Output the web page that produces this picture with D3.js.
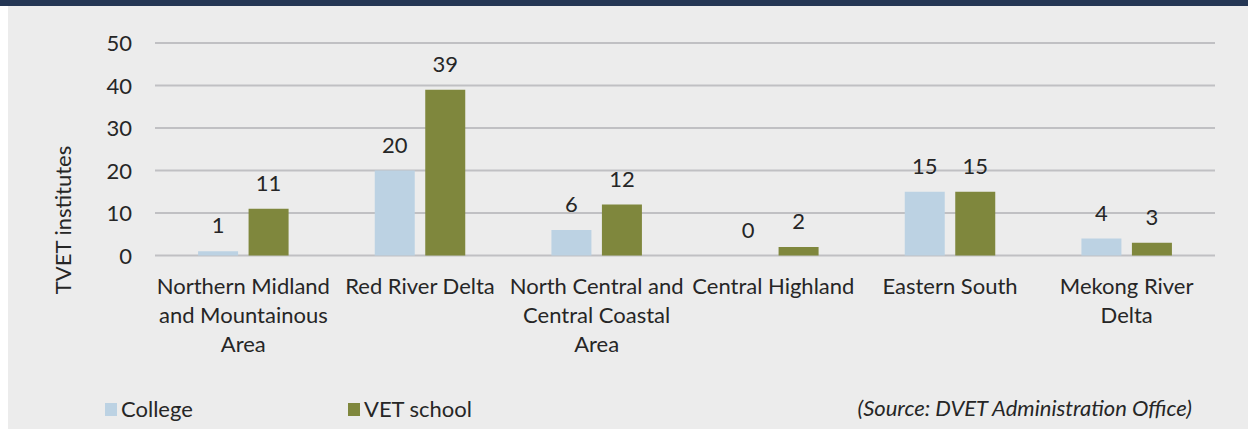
<!DOCTYPE html>
<html>
<head>
<meta charset="utf-8">
<script src="https://cdn.jsdelivr.net/npm/d3@7"></script>
<style>
  html, body { margin: 0; padding: 0; background: #ffffff; }
  svg { display: block; }
  text { font-family: Lato, "Open Sans", sans-serif; fill: #262626; }
</style>
</head>
<body>
<svg id="chart" width="1248" height="435"></svg>
<script>
// Regions and the number of TVET institutes of each type
const categories = [
  "Northern Midland and Mountainous Area",
  "Red River Delta",
  "North Central and Central Coastal Area",
  "Central Highland",
  "Eastern South",
  "Mekong River Delta"
];
// How each region name breaks onto lines under the axis
const categoryLines = [
  ["Northern Midland", "and Mountainous", "Area"],
  ["Red River Delta"],
  ["North Central and", "Central Coastal", "Area"],
  ["Central Highland"],
  ["Eastern South"],
  ["Mekong River", "Delta"]
];
const seriesNames = ["College", "VET school"];
const collegeValues = [1, 20, 6, 0, 15, 4];
const vetSchoolValues = [11, 39, 12, 2, 15, 3];
const yTicks = [0, 10, 20, 30, 40, 50];
const yTitle = "TVET institutes";
const sourceNote = "(Source: DVET Administration Office)";

const colors = { "College": "#bcd2e3", "VET school": "#7f873d" };
const series = [collegeValues, vetSchoolValues];
const fontSize = 22;

const svg = d3.select("#chart");

// panel background and header band
svg.append("rect").attr("x", 8).attr("y", 0).attr("width", 1240).attr("height", 429).attr("fill", "#ececec");
svg.append("rect").attr("x", 0).attr("y", 0).attr("width", 1248).attr("height", 6).attr("fill", "#243654");

const plot = { left: 155, right: 1215, top: 43, bottom: 255.5 };

const x0 = d3.scaleBand().domain(d3.range(categories.length)).range([plot.left, plot.right]).padding(0);
const y = d3.scaleLinear().domain([0, 50]).range([plot.bottom, plot.top]);

const barW = 40, barGap = 10.5;
const x1 = d3.scaleBand().domain(seriesNames)
  .range([-(barW + barGap / 2), barW + barGap / 2])
  .paddingInner(barGap / (barW + barGap)).paddingOuter(0);

// gridlines
const grid = svg.append("g");
grid.selectAll("line").data(yTicks).join("line")
  .attr("x1", plot.left).attr("x2", plot.right)
  .attr("y1", d => y(d)).attr("y2", d => y(d))
  .attr("stroke", "#c0c0c3").attr("stroke-width", 2);

// y axis tick labels
const yAxis = d3.axisLeft(y).tickValues(yTicks).tickSize(0).tickPadding(0);
const gy = svg.append("g").attr("transform", `translate(${plot.left - 23},0)`).call(yAxis);
gy.select(".domain").remove();
gy.selectAll("text").attr("font-size", fontSize).attr("font-family", "Lato, sans-serif").attr("fill", "#262626").attr("dy", "0.36em");

// y axis title
svg.append("text")
  .attr("transform", `translate(71,220) rotate(-90)`)
  .attr("text-anchor", "middle")
  .attr("font-size", fontSize)
  .text(yTitle);

// bars and value labels
const groups = svg.append("g").selectAll("g").data(categories).join("g")
  .attr("transform", (d, i) => `translate(${x0(i) + x0.bandwidth() / 2},0)`);

seriesNames.forEach((name, s) => {
  groups.append("rect")
    .attr("x", x1(name))
    .attr("width", x1.bandwidth())
    .attr("y", (d, i) => y(series[s][i]))
    .attr("height", (d, i) => y(0) - y(series[s][i]))
    .attr("fill", colors[name]);
  groups.append("text")
    .attr("x", x1(name) + x1.bandwidth() / 2)
    .attr("y", (d, i) => y(series[s][i]) - 18)
    .attr("text-anchor", "middle")
    .attr("font-size", fontSize)
    .text((d, i) => series[s][i]);
});

// category labels
groups.append("text")
  .attr("text-anchor", "middle")
  .attr("font-size", fontSize)
  .selectAll("tspan").data((d, i) => categoryLines[i]).join("tspan")
  .attr("x", 0)
  .attr("y", (d, j) => 294 + j * 29)
  .text(d => d);

// legend
const legendItems = [{ name: "College", x: 105 }, { name: "VET school", x: 348 }];
const legend = svg.append("g").selectAll("g").data(legendItems).join("g")
  .attr("transform", d => `translate(${d.x},403)`);
legend.append("rect").attr("width", 12).attr("height", 13).attr("fill", d => colors[d.name]);
legend.append("text").attr("x", 16).attr("y", 14).attr("font-size", fontSize).text(d => d.name);

// source note
svg.append("text")
  .attr("x", 1192).attr("y", 416)
  .attr("text-anchor", "end")
  .attr("font-size", fontSize)
  .attr("font-style", "italic")
  .text(sourceNote);
</script>
</body>
</html>
